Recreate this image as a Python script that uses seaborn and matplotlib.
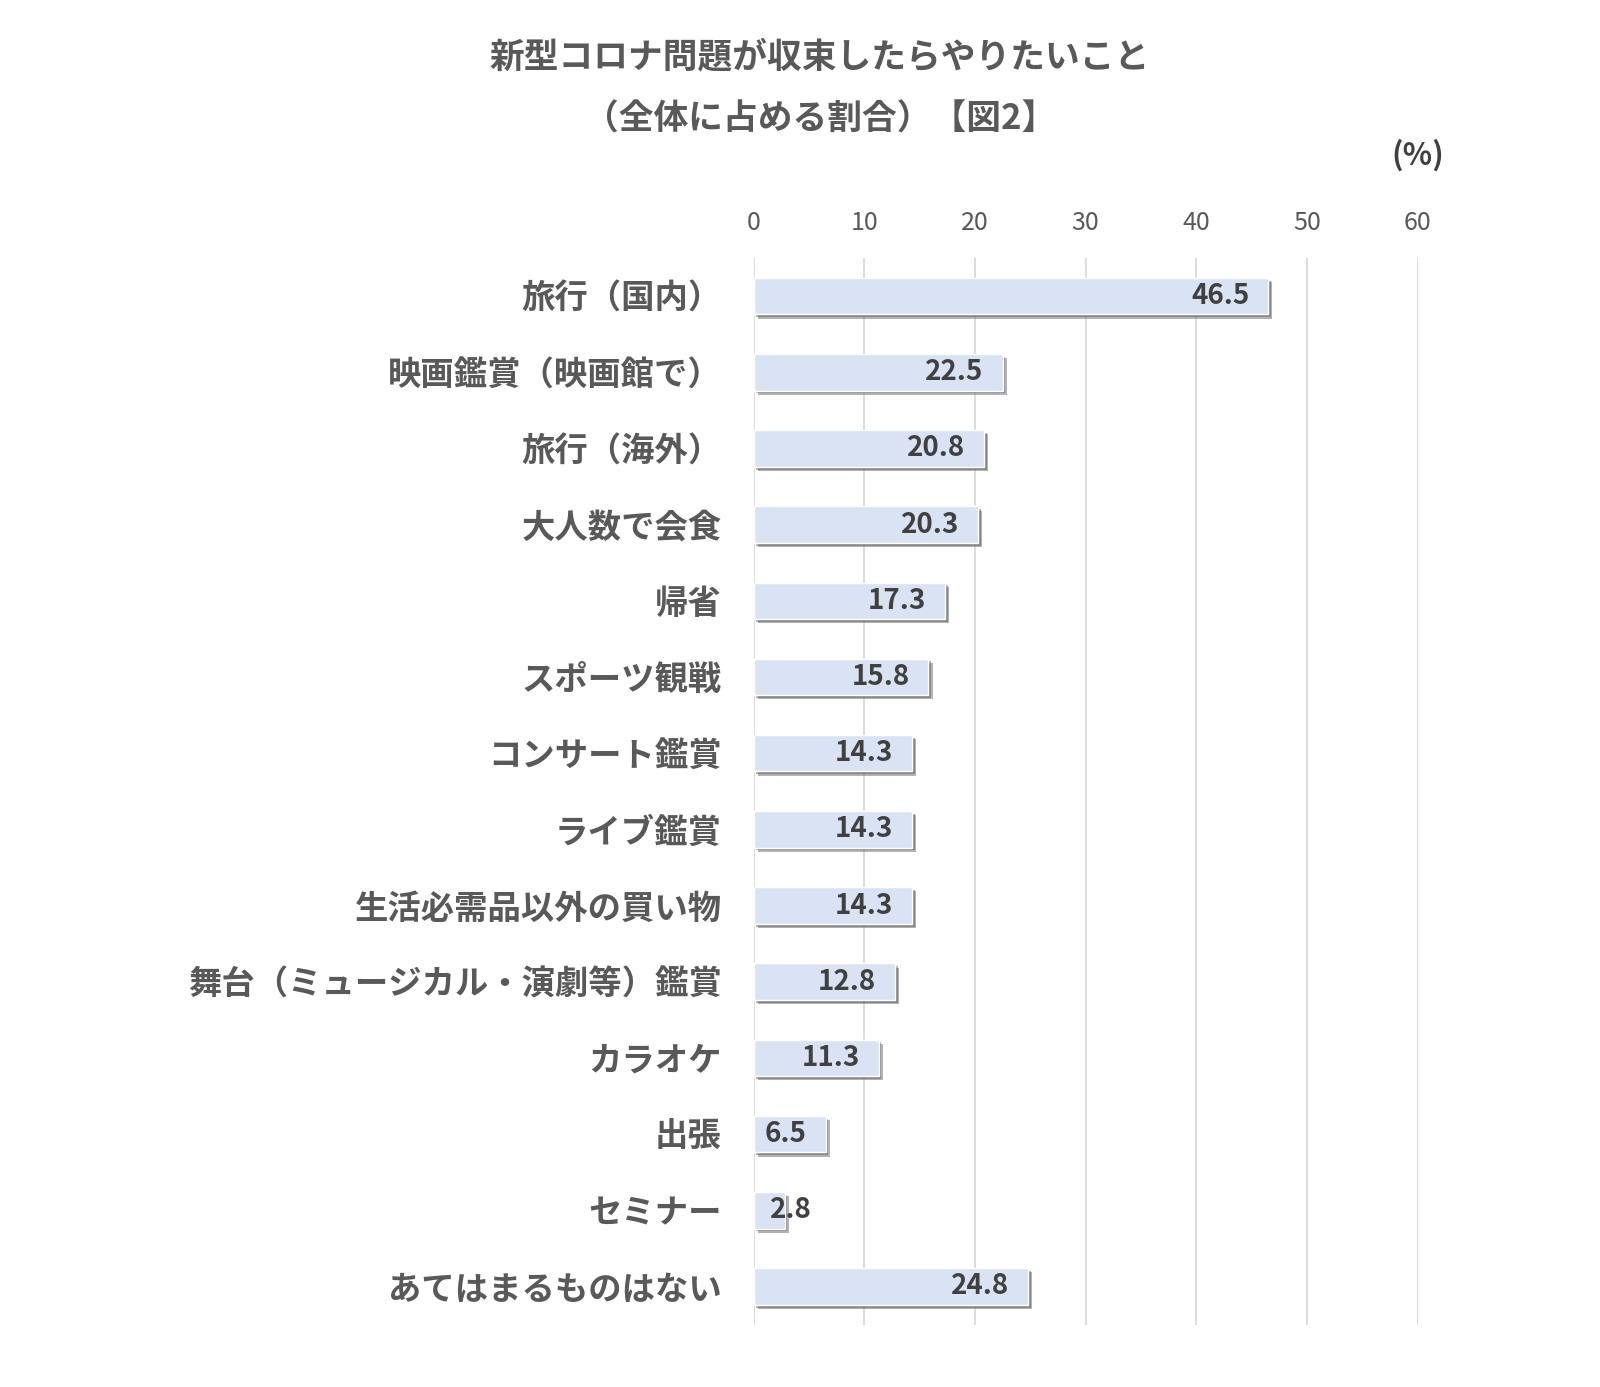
import matplotlib
matplotlib.use("Agg")
import matplotlib.pyplot as plt
import matplotlib.patheffects as pe
import matplotlib.transforms as mtransforms
import seaborn as sns
import pandas as pd

categories = ["旅行（国内）", "映画鑑賞（映画館で）", "旅行（海外）", "大人数で会食", "帰省",
              "スポーツ観戦", "コンサート鑑賞", "ライブ鑑賞", "生活必需品以外の買い物",
              "舞台（ミュージカル・演劇等）鑑賞", "カラオケ", "出張", "セミナー", "あてはまるものはない"]
values = [46.5, 22.5, 20.8, 20.3, 17.3, 15.8, 14.3, 14.3, 14.3, 12.8, 11.3, 6.5, 2.8, 24.8]
xticks = [0, 10, 20, 30, 40, 50, 60]
title = "新型コロナ問題が収束したらやりたいこと\n（全体に占める割合）【図2】"
unit = "(%)"

df = pd.DataFrame({"item": categories, "value": values})

sns.set_theme(style="white")
plt.rcParams['font.family'] = ['Noto Sans CJK JP', 'DejaVu Sans']

fig = plt.figure(figsize=(16, 13.87), dpi=100)
ax = fig.add_axes([0.471, 0.045, 0.415, 0.769])

sns.barplot(data=df, x="value", y="item", orient="h", color="#dae3f3",
            saturation=1, width=0.48, ax=ax, zorder=3)

for p in ax.patches:
    p.set_path_effects([pe.SimplePatchShadow(offset=(3, -3), shadow_rgbFace="#7f7f7f", alpha=0.6),
                        pe.SimplePatchShadow(offset=(2, -2), shadow_rgbFace="#606060", alpha=0.5),
                        pe.Normal()])

ax.set_xlim(0, 60)
ax.set_xticks(xticks)
ax.xaxis.tick_top()
ax.tick_params(axis="x", length=0, pad=16, labelsize=18, labelcolor="#595959")
ax.tick_params(axis="y", length=0, pad=23, labelsize=24, labelcolor="#595959")
for lab in ax.get_yticklabels():
    lab.set_fontweight("bold")
ax.set_xlabel("")
ax.set_ylabel("")
ax.grid(axis="x", color="#d9d9d9", linewidth=1.3, zorder=0)
ax.grid(axis="y", visible=False)
for s in ax.spines.values():
    s.set_visible(False)

off_in = mtransforms.offset_copy(ax.transData, fig=fig, x=-19, y=0, units="dots")
off_left = mtransforms.offset_copy(ax.transData, fig=fig, x=16, y=0, units="dots")
for i, v in enumerate(values):
    if v < 5:
        ax.text(0, i, f"{v:.1f}", transform=off_left, ha="left", va="center",
                fontsize=20, fontweight="bold", color="#404040", zorder=5)
    else:
        ax.text(v, i, f"{v:.1f}", transform=off_in, ha="right", va="center",
                fontsize=20, fontweight="bold", color="#404040", zorder=5)

fig.text(0.5125, 0.9366, title, ha="center", va="center", fontsize=25,
         fontweight="bold", color="#595959", linespacing=1.95)
fig.text(0.886, 0.888, unit, ha="center", va="center", fontsize=22,
         fontweight="bold", color="#404040")

fig.savefig("out.png", dpi=100, facecolor="white")
